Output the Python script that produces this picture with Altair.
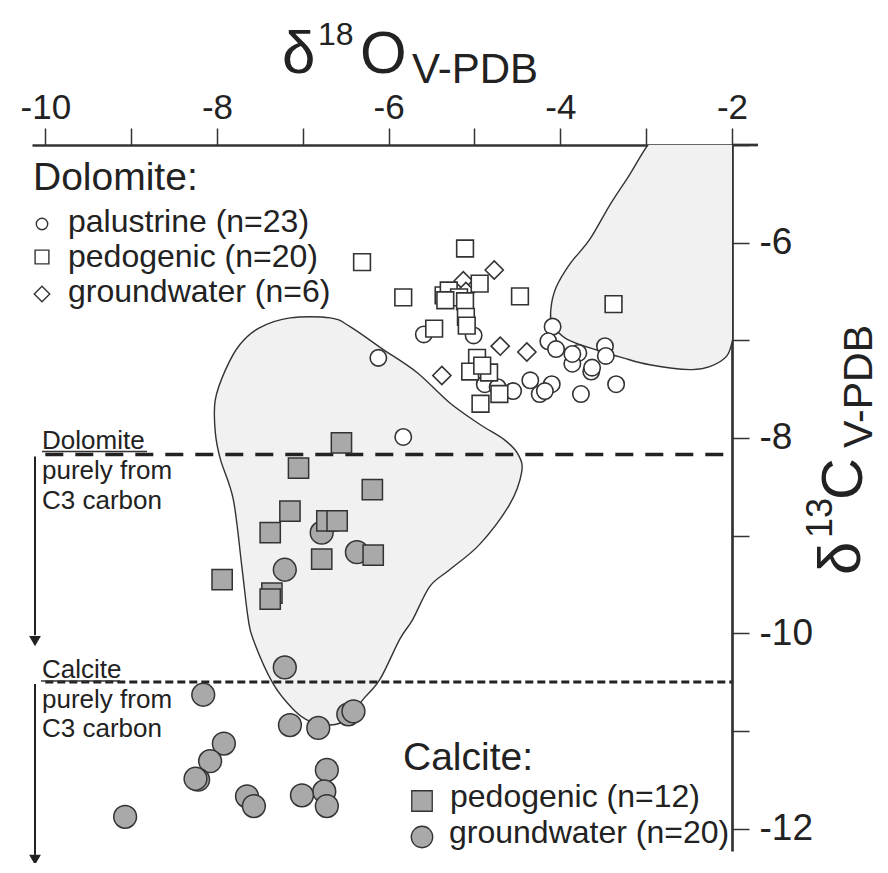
import altair as alt
import pandas as pd

FONT = "Liberation Sans"
INK = "#222222"
LINE = "#333333"
GRAY = "#a9a9a9"
SHADE = "#f1f1f1"

# ---------------- data ----------------
# Calcite, pedogenic (grey squares)
cal_ped_x = [-6.55, -7.05, -6.19, -7.15, -7.38, -6.72, -6.60, -6.78, -6.18, -7.94, -7.36, -7.38]
cal_ped_y = [-8.05, -8.31, -8.53, -8.75, -8.97, -8.85, -8.85, -9.24, -9.20, -9.45, -9.59, -9.65]
# Calcite, groundwater (grey circles)
cal_gw_x = [-6.78, -6.37, -7.21, -7.21, -8.16, -7.92, -8.08, -8.22, -8.25, -9.07,
            -7.65, -7.57, -7.15, -6.82, -6.47, -6.41, -6.72, -6.75, -6.72, -7.01]
cal_gw_y = [-8.97, -9.17, -9.35, -10.35, -10.63, -11.13, -11.31, -11.50, -11.49, -11.88,
            -11.67, -11.77, -10.94, -10.97, -10.83, -10.80, -11.40, -11.62, -11.77, -11.66]
# Dolomite, palustrine (open circles)
dol_pal_x = [-6.12, -5.83, -5.59, -5.01, -4.88, -4.55, -4.35, -4.24, -4.10, -4.09, -4.14, -4.05,
             -3.79, -3.86, -3.64, -3.63, -3.48, -3.47, -3.35, -3.76, -4.18, -3.86, -4.73]
dol_pal_y = [-7.18, -7.99, -6.94, -6.95, -7.45, -7.52, -7.41, -7.55, -7.45, -6.86, -7.01, -7.09,
             -7.13, -7.24, -7.32, -7.28, -7.06, -7.16, -7.45, -7.55, -7.52, -7.14, -7.48]
# Dolomite, pedogenic (open squares)
dol_ped_x = [-5.11, -6.31, -4.94, -5.83, -5.36, -5.30, -5.18, -5.11, -4.47, -3.38,
             -5.47, -5.10, -5.09, -4.97, -5.05, -4.83, -4.91, -4.71, -4.93, -5.34]
dol_ped_y = [-6.06, -6.20, -6.42, -6.56, -6.54, -6.49, -6.56, -6.60, -6.55, -6.63,
             -6.88, -6.76, -6.85, -7.18, -7.32, -7.33, -7.26, -7.55, -7.65, -6.59]
# Dolomite, groundwater (open diamonds)
dol_gw_x = [-5.13, -4.77, -4.70, -4.39, -5.38, -5.10]
dol_gw_y = [-6.39, -6.28, -7.06, -7.12, -7.36, -6.50]

# outlined fields
left_field_x = [-6.68, -6.45, -6.07, -5.67, -5.29, -4.94, -4.65, -4.49, -4.45, -4.59, -4.94, -5.29,
                -5.52, -5.72, -5.87, -6.10, -6.30, -6.48, -6.68, -6.92, -7.11, -7.35, -7.58, -7.64,
                -7.71, -7.81, -7.96, -8.02, -8.02, -7.90, -7.73, -7.50, -7.15]
left_field_y = [-6.77, -6.86, -7.09, -7.33, -7.64, -7.86, -8.02, -8.17, -8.35, -8.68, -9.09, -9.35,
                -9.52, -9.86, -10.06, -10.47, -10.68, -10.88, -10.94, -10.90, -10.78, -10.51, -10.06, -9.83,
                -9.32, -8.63, -8.22, -7.94, -7.61, -7.30, -7.04, -6.87, -6.77]
right_field_x = [-2.98, -3.19, -3.42, -3.66, -3.89, -4.05, -4.11, -4.09, -3.92, -3.54, -3.27, -2.96,
                 -2.49, -2.26, -2.06, -1.98, -1.85, -1.85, -2.80]
right_field_y = [-5.00, -5.30, -5.61, -5.97, -6.22, -6.46, -6.68, -6.84, -6.99, -7.11, -7.18, -7.25,
                 -7.30, -7.27, -7.16, -6.95, -6.50, -4.85, -4.85]

# C3 thresholds and arrows
c3_levels = [-8.17, -10.50]
c3_from_x = [-10.0, -10.0]
c3_to_x = [-2.0, -2.0]
arrow_x = [-10.12, -10.12]
arrow_top = [-8.19, -10.52]
arrow_bottom = [-10.02, -12.27]
arrow_head = [-10.08, -12.32]

# texts
x_title_parts = ["δ", "18", "O", "V-PDB"]
y_title_parts = ["δ", "13", "C", "V-PDB"]
dolomite_legend = ["Dolomite:", "palustrine (n=23)", "pedogenic (n=20)", "groundwater (n=6)"]
calcite_legend = ["Calcite:", "pedogenic (n=12)", "groundwater (n=20)"]
c3_notes = [["Dolomite", "purely from", "C3 carbon"], ["Calcite", "purely from", "C3 carbon"]]

x_ticks = list(range(-10, -1))
y_ticks = list(range(-12, -4))

W, H = 700, 706

# ---------------- encodings ----------------
even_only = "datum.value % 2 == 0 ? ('-' + abs(datum.value)) : ''"
X = alt.X("x:Q", scale=alt.Scale(domain=[-10.155, -2], nice=False, zero=False),
          axis=alt.Axis(orient="top", values=x_ticks, labelExpr=even_only, title=None, grid=False,
                        tickSize=17, tickWidth=1.5, tickColor=LINE, domainWidth=2.7, domainColor=LINE,
                        labelFont=FONT, labelFontSize=35, labelColor=INK, labelPadding=3,
                        labelFlush=False, labelOverlap=False))
Y = alt.Y("y:Q", scale=alt.Scale(domain=[-12.23, -5], nice=False, zero=False),
          axis=alt.Axis(orient="right", values=y_ticks, labelExpr=even_only, title=None, grid=False,
                        tickSize=17, tickWidth=1.5, tickColor=LINE, domainWidth=2.7, domainColor=LINE,
                        labelFont=FONT, labelFontSize=37, labelColor=INK, labelPadding=10,
                        labelFlush=False, labelOverlap=False))


def df(xs, ys):
    return pd.DataFrame({"x": xs, "y": ys})


def field(xs, ys):
    d = pd.DataFrame({"x": xs, "y": ys, "i": list(range(len(xs)))})
    return alt.Chart(d).mark_line(fill=SHADE, stroke=LINE, strokeWidth=1.4,
                                  interpolate="cardinal-closed", clip=True).encode(
        x=X, y=Y, order="i:Q")


def pts(xs, ys, shape, size, fill, sw=1.6):
    return alt.Chart(df(xs, ys)).mark_point(shape=shape, size=size, filled=True, fill=fill,
                                            stroke=LINE, strokeWidth=sw, opacity=1).encode(x=X, y=Y)


def txt(s, x, y, size, angle=0):
    return alt.Chart(pd.DataFrame({"t": [s]})).mark_text(
        align="left", baseline="alphabetic", font=FONT, fontSize=size, color=INK, angle=angle
    ).encode(text="t:N", x=alt.value(x), y=alt.value(y))


def sym(shape, x, y, size, fill, sw=1.4):
    return alt.Chart(pd.DataFrame({"t": [shape]})).mark_point(
        shape=shape, size=size, filled=True, fill=fill, stroke=LINE, strokeWidth=sw, opacity=1
    ).encode(x=alt.value(x), y=alt.value(y))


def hline(x1, x2, y, sw=1.3):
    return alt.Chart(pd.DataFrame({"t": [0]})).mark_rule(color=LINE, strokeWidth=sw).encode(
        x=alt.value(x1), x2=alt.value(x2), y=alt.value(y))


layers = []
layers.append(field(left_field_x, left_field_y))
layers.append(field(right_field_x, right_field_y))

ref = pd.DataFrame({"x": c3_from_x, "x2": c3_to_x, "y": c3_levels})
layers.append(alt.Chart(ref.iloc[[0]]).mark_rule(color=INK, strokeWidth=3.5, strokeDash=[18, 12]).encode(
    x=X, x2="x2:Q", y=Y))
layers.append(alt.Chart(ref.iloc[[1]]).mark_rule(color=INK, strokeWidth=3, strokeDash=[8, 4]).encode(
    x=X, x2="x2:Q", y=Y))

arr = pd.DataFrame({"x": arrow_x, "y": arrow_top, "y2": arrow_bottom, "yh": arrow_head})
layers.append(alt.Chart(arr).mark_rule(color=INK, strokeWidth=2).encode(x=X, y=Y, y2="y2:Q"))
layers.append(alt.Chart(arr).mark_point(shape="triangle-down", size=140, filled=True, color=INK,
                                        opacity=1).encode(x=X, y=alt.Y("yh:Q")))

layers.append(pts(cal_gw_x, cal_gw_y, "circle", 520, GRAY, 1.5))
layers.append(pts(cal_ped_x, cal_ped_y, "square", 410, GRAY, 1.5))
layers.append(pts(dol_pal_x, dol_pal_y, "circle", 270, "white"))
layers.append(pts(dol_gw_x, dol_gw_y, "diamond", 330, "white"))
layers.append(pts(dol_ped_x, dol_ped_y, "square", 280, "white"))

# axis line extension beyond x = -2
layers.append(hline(W, W + 26, 0, 2.7))

# axis titles with super/subscripts
layers += [
    txt(x_title_parts[0], 250, -72, 60),
    txt(x_title_parts[1], 286, -100, 32),
    txt(x_title_parts[2], 328, -72, 60),
    txt(x_title_parts[3], 380, -62, 42),
    txt(y_title_parts[0], 828, 430, 60, 270),
    txt(y_title_parts[1], 800, 393, 36, 270),
    txt(y_title_parts[2], 830, 355, 58, 270),
    txt(y_title_parts[3], 840, 303, 41, 270),
]

# Dolomite legend
layers += [
    txt(dolomite_legend[0], 1, 45, 39),
    sym("circle", 10, 79, 130, "white"),
    txt(dolomite_legend[1], 36, 87, 32),
    sym("square", 10, 112, 190, "white"),
    txt(dolomite_legend[2], 36, 122, 32),
    sym("diamond", 10, 149, 240, "white"),
    txt(dolomite_legend[3], 36, 157, 32),
]
# Calcite legend
layers += [
    txt(calcite_legend[0], 371, 625, 39),
    sym("square", 390, 656, 420, GRAY, 1.3),
    txt(calcite_legend[1], 418, 662, 32),
    sym("circle", 390, 692, 460, GRAY, 1.3),
    txt(calcite_legend[2], 417, 698, 32),
]
# C3 notes
for lines, base in zip(c3_notes, [304, 533]):
    for k, s in enumerate(lines):
        layers.append(txt(s, 10, base + 30 * k - (1 if k == 2 and base == 533 else 0), 26))
layers.append(hline(10, 115, 306.5, 1.3))
layers.append(hline(9, 88, 536, 1.3))

chart = alt.layer(*layers).properties(
    width=W, height=H,
    padding={"left": 24, "top": 137, "right": 148, "bottom": 12},
    autosize=alt.AutoSizeParams(type="none"),
).configure_view(stroke=None)

chart.save("out.html", embed_options={"renderer": "svg", "actions": False})
